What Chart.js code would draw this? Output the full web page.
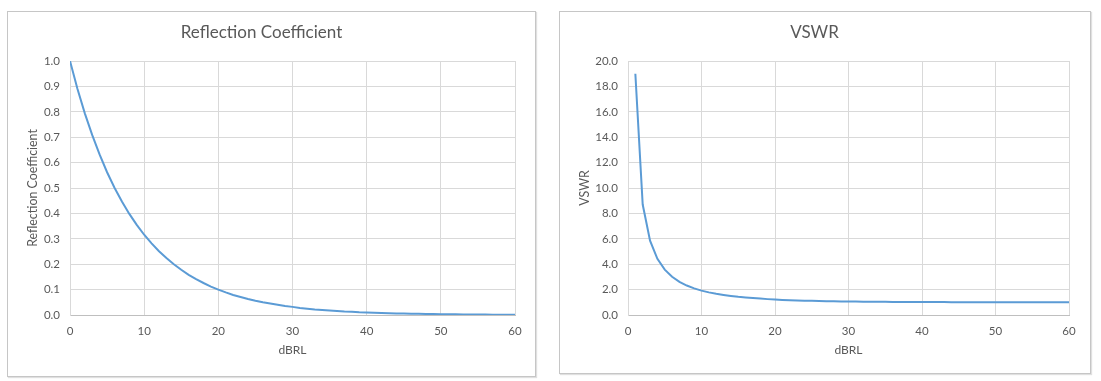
<!DOCTYPE html>
<html>
<head>
<meta charset="utf-8">
<script src="https://cdn.jsdelivr.net/npm/chart.js@4/dist/chart.umd.min.js"></script>
<style>
  html, body { margin: 0; padding: 0; background: #fff; width: 1101px; height: 381px; overflow: hidden; }
  .box { position: absolute; border: 1px solid #c6c6c6; background: #fff; box-shadow: 1px 1px 1px #e0e0e0; }
  #b1 { left: 7px; top: 11px; width: 527px; height: 364px; }
  #b2 { left: 559px; top: 11px; width: 530px; height: 361px; }
  canvas { display: block; }
</style>
</head>
<body>
<div class="box" id="b1"><canvas id="c1" width="527" height="364"></canvas></div>
<div class="box" id="b2"><canvas id="c2" width="530" height="361"></canvas></div>
<script>
// ---- data ----
const rcTitle = "Reflection Coefficient";
const vswrTitle = "VSWR";
const xAxisTitle = "dBRL";

const rcDbrl = [0,1,2,3,4,5,6,7,8,9,10,11,12,13,14,15,16,17,18,19,20,21,22,23,24,25,26,27,28,29,30,31,32,33,34,35,36,37,38,39,40,41,42,43,44,45,46,47,48,49,50,51,52,53,54,55,56,57,58,59,60];
const rcValues = [1.000,0.891,0.794,0.708,0.631,0.562,0.501,0.447,0.398,0.355,0.316,0.282,0.251,0.224,0.200,0.178,0.158,0.141,0.126,0.112,0.100,0.089,0.079,0.071,0.063,0.056,0.050,0.045,0.040,0.035,0.032,0.028,0.025,0.022,0.020,0.018,0.016,0.014,0.013,0.011,0.010,0.0089,0.0079,0.0071,0.0063,0.0056,0.0050,0.0045,0.0040,0.0035,0.0032,0.0028,0.0025,0.0022,0.0020,0.0018,0.0016,0.0014,0.0013,0.0011,0.0010];

const vswrDbrl = [1,2,3,4,5,6,7,8,9,10,11,12,13,14,15,16,17,18,19,20,21,22,23,24,25,26,27,28,29,30,31,32,33,34,35,36,37,38,39,40,41,42,43,44,45,46,47,48,49,50,51,52,53,54,55,56,57,58,59,60];
const vswrValues = [19.0,8.7,5.85,4.42,3.57,3.01,2.61,2.32,2.10,1.92,1.78,1.67,1.58,1.50,1.43,1.38,1.33,1.29,1.25,1.22,1.19,1.17,1.15,1.13,1.12,1.11,1.09,1.08,1.07,1.07,1.06,1.05,1.05,1.04,1.04,1.03,1.03,1.03,1.02,1.02,1.02,1.02,1.02,1.01,1.01,1.01,1.01,1.01,1.01,1.01,1.01,1.01,1.00,1.00,1.00,1.00,1.00,1.00,1.00,1.00];

const rcTicks = { min: 0, max: 1.0, step: 0.1 };
const vswrTicks = { min: 0, max: 20, step: 2 };
const xTicks = { min: 0, max: 60, step: 10 };

// ---- styles ----
const FONT = "Lato, 'Open Sans', 'Liberation Sans', sans-serif";
const TXT = '#595959';
const GRID = '#d9d9d9';
const LINE = '#5b9bd5';

function makeChart(id, title, xs, ys, yt, yTitle, cfg) {
  const pts = xs.map((x, i) => ({ x: x, y: ys[i] }));
  return new Chart(document.getElementById(id), {
    type: 'line',
    data: { datasets: [{ data: pts, borderColor: LINE, borderWidth: 2, pointRadius: 0, tension: 0, fill: false }] },
    options: {
      responsive: false,
      animation: false,
      events: [],
      layout: { padding: { left: 0, right: cfg.right, top: 0, bottom: 0 } },
      plugins: {
        legend: { display: false },
        tooltip: { enabled: false },
        title: {
          display: true, text: title, color: TXT,
          font: { family: FONT, size: 17, weight: 'normal' },
          padding: { top: 10.8, bottom: 17.8 }
        }
      },
      scales: {
        x: {
          type: 'linear', min: xTicks.min, max: xTicks.max,
          afterFit: s => { s.height = cfg.xh; },
          grid: { color: GRID, drawTicks: false },
          border: { color: '#bfbfbf', width: 1 },
          ticks: { stepSize: xTicks.step, color: TXT, padding: 9, font: { family: FONT, size: 11.5 } },
          title: { display: true, text: xAxisTitle, color: TXT, font: { family: FONT, size: 12 }, padding: { top: 0, bottom: cfg.xtb } }
        },
        y: {
          type: 'linear', min: yt.min, max: yt.max,
          afterFit: s => { s.width = cfg.yw; },
          grid: { color: GRID, drawTicks: false },
          border: { color: GRID, width: 1 },
          ticks: { stepSize: yt.step, color: TXT, padding: 10, font: { family: FONT, size: 11.5 },
                   callback: v => Number(v).toFixed(1) },
          title: { display: true, text: yTitle, color: TXT, font: { family: FONT, size: 12.4 }, padding: { top: 17.6, bottom: 0 } }
        }
      }
    }
  });
}

makeChart('c1', rcTitle, rcDbrl, rcValues, rcTicks, rcTitle, { right: 20, xh: 61, yw: 62, xtb: 18.8 });
makeChart('c2', vswrTitle, vswrDbrl, vswrValues, vswrTicks, vswrTitle, { right: 21, xh: 58, yw: 68, xtb: 15.8 });
</script>
</body>
</html>
